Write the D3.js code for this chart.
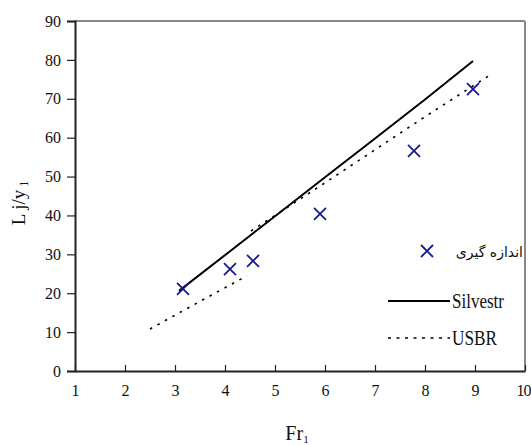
<!DOCTYPE html>
<html>
<head>
<meta charset="utf-8">
<script src="https://cdn.jsdelivr.net/npm/d3@7"></script>
<style>
  html, body { margin: 0; padding: 0; background: #fff; }
  svg { display: block; }
</style>
</head>
<body>
<svg id="chart" width="531" height="445"></svg>
<script>
// Measured hydraulic-jump lengths
const measuredFr = [3.16, 4.1, 4.56, 5.9, 7.78, 8.96];
const measuredL  = [21.1, 26.2, 28.3, 40.4, 56.6, 72.5];

// Silvestri relation
const silvestrFr = [3.08, 4.1, 5, 6, 7, 8, 8.96];
const silvestrL  = [20.6, 30.8, 39.8, 49.8, 59.8, 69.8, 79.7];

// USBR curve (two branches)
const usbrLowFr  = [2.5, 3.5, 4.44];
const usbrLowL   = [10.8, 17.9, 24.5];
const usbrHighFr = [4.52, 5, 6, 7, 8, 9.36];
const usbrHighL  = [36, 40, 48.4, 56.9, 65.4, 76.6];

const xTicks = [1, 2, 3, 4, 5, 6, 7, 8, 9, 10];
const yTicks = [0, 10, 20, 30, 40, 50, 60, 70, 80, 90];

const legendLabels = ["اندازه گیری", "Silvestr", "USBR"];

const serif = "'Liberation Serif', 'Times New Roman', Tinos, serif";

const svg = d3.select("#chart");
const plotL = 75, plotR = 525, plotT = 21, plotB = 371;

const x = d3.scaleLinear().domain([1, 10]).range([plotL, plotR]);
const y = d3.scaleLinear().domain([0, 90]).range([plotB, plotT]);

const markColor = "#1a1a8e";

// frame: grey top/right edges
svg.append("line").attr("x1", plotL).attr("x2", plotR).attr("y1", plotT).attr("y2", plotT)
  .attr("stroke", "#888").attr("stroke-width", 2);
svg.append("line").attr("x1", plotR).attr("x2", plotR).attr("y1", plotT).attr("y2", plotB)
  .attr("stroke", "#888").attr("stroke-width", 2);

// y axis, ticks outward
const yAxis = d3.axisLeft(y).tickValues(yTicks).tickSize(8).tickPadding(6).tickFormat(d3.format("d"));
const gy = svg.append("g").attr("transform", `translate(${plotL},0)`).call(yAxis);
gy.select(".domain").attr("stroke", "#222").attr("stroke-width", 2);
gy.selectAll(".tick line").attr("stroke", "#222").attr("stroke-width", 1.2);
gy.selectAll(".tick text").style("font-family", serif).style("font-size", "16px").attr("fill", "#111");

// x axis, ticks pointing into the plot
const xAxis = d3.axisBottom(x).tickValues(xTicks).tickSizeInner(-6).tickSizeOuter(0).tickPadding(14).tickFormat(d3.format("d"));
const gx = svg.append("g").attr("transform", `translate(0,${plotB})`).call(xAxis);
gx.select(".domain").attr("stroke", "#222").attr("stroke-width", 2);
gx.selectAll(".tick line").attr("stroke", "#222").attr("stroke-width", 1.2);
gx.selectAll(".tick text").style("font-family", serif).style("font-size", "16px").attr("fill", "#111");
// keep the last label inside the page edge
gx.selectAll(".tick text").filter(d => d === 10)
  .attr("text-anchor", "end").attr("x", 5).attr("letter-spacing", -1);

// axis titles
const xt = svg.append("text").attr("x", 297).attr("y", 440).attr("text-anchor", "middle")
  .style("font-family", serif).style("font-size", "20px").attr("fill", "#111");
xt.append("tspan").text("Fr");
xt.append("tspan").style("font-size", "11px").attr("dy", 3).text("1");

const yt = svg.append("text").attr("transform", "translate(25,203) rotate(-90)")
  .attr("text-anchor", "middle").style("font-family", serif).style("font-size", "19px").attr("fill", "#111");
yt.append("tspan").text("L j/y");
yt.append("tspan").style("font-size", "12px").attr("dy", 3).text(" 1");

const line = d3.line().x(d => x(d[0])).y(d => y(d[1]));

// Silvestri solid line
svg.append("path").datum(d3.zip(silvestrFr, silvestrL)).attr("d", line)
  .attr("fill", "none").attr("stroke", "#000").attr("stroke-width", 2);

// USBR dotted branches
[[usbrLowFr, usbrLowL], [usbrHighFr, usbrHighL]].forEach(([fx, fl]) => {
  svg.append("path").datum(d3.zip(fx, fl)).attr("d", line)
    .attr("fill", "none").attr("stroke", "#000").attr("stroke-width", 1.6)
    .attr("stroke-dasharray", "2.5,6");
});

// measured points as X markers
const xMark = (g, cx, cy, r) => {
  g.append("path").attr("d", `M${cx - r},${cy - r}L${cx + r},${cy + r}M${cx - r},${cy + r}L${cx + r},${cy - r}`)
    .attr("stroke", markColor).attr("stroke-width", 1.8).attr("fill", "none");
};
const pts = svg.append("g");
d3.zip(measuredFr, measuredL).forEach(([f, l]) => xMark(pts, x(f), y(l), 6));

// legend
const lg = svg.append("g");
xMark(lg, 427, 251, 6);
lg.append("text").attr("x", 523).attr("y", 257).attr("text-anchor", "end")
  .style("font-family", "'DejaVu Sans', 'Noto Sans', sans-serif").style("font-size", "14px")
  .attr("fill", "#111").text(legendLabels[0]);

lg.append("line").attr("x1", 388).attr("x2", 450).attr("y1", 301).attr("y2", 301)
  .attr("stroke", "#000").attr("stroke-width", 2);
lg.append("text").attr("x", 452).attr("y", 308).style("font-family", serif).style("font-size", "21px")
  .attr("textLength", 52).attr("lengthAdjust", "spacingAndGlyphs")
  .attr("fill", "#111").text(legendLabels[1]);

lg.append("line").attr("x1", 388).attr("x2", 450).attr("y1", 338).attr("y2", 338)
  .attr("stroke", "#000").attr("stroke-width", 1.6).attr("stroke-dasharray", "3,5.5");
lg.append("text").attr("x", 452).attr("y", 345).style("font-family", serif).style("font-size", "21px")
  .attr("textLength", 45).attr("lengthAdjust", "spacingAndGlyphs")
  .attr("fill", "#111").text(legendLabels[2]);
</script>
</body>
</html>
